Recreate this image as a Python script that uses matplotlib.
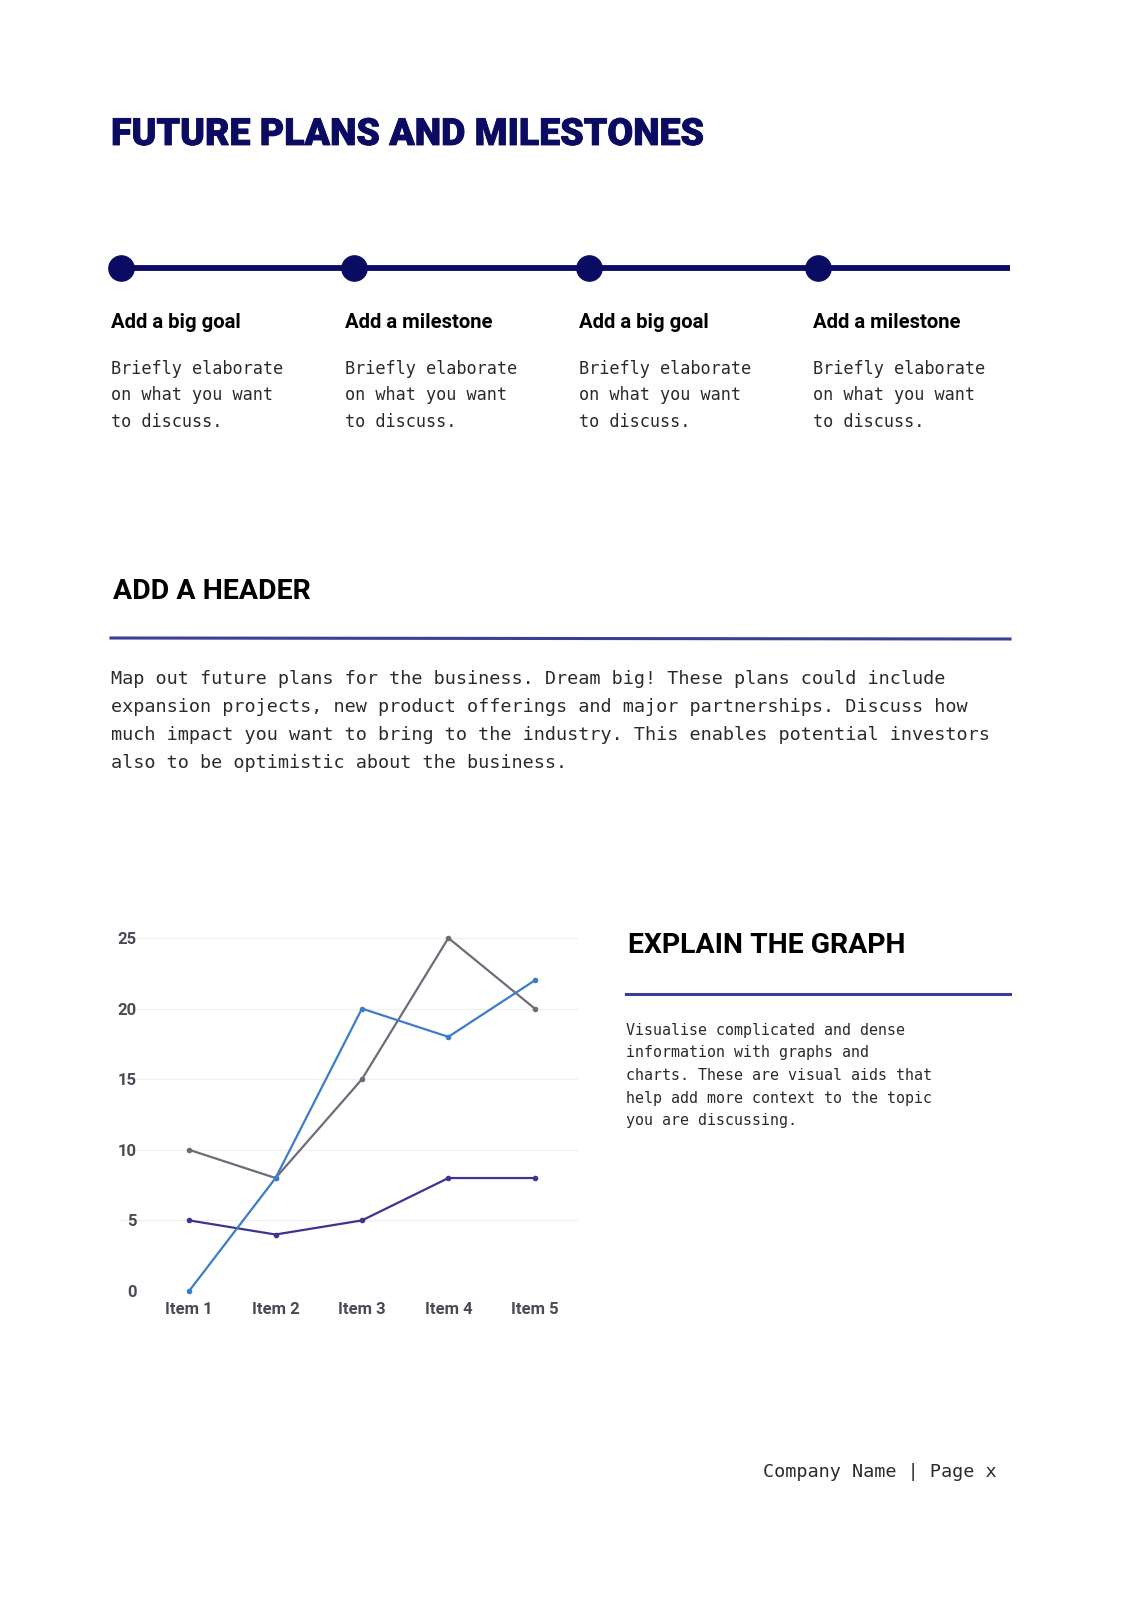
import numpy as np
import matplotlib.pyplot as plt
import matplotlib.patheffects as pe

# Datos del grafico
items = ["Item 1", "Item 2", "Item 3", "Item 4", "Item 5"]
serie_gris = [10, 8, 15, 25, 20]
serie_azul = [0, 8, 20, 18, 22]
serie_morada = [5, 4, 5, 8, 8]
yticks = [0, 5, 10, 15, 20, 25]

# Textos de la pagina
titulo = "FUTURE PLANS AND MILESTONES"
metas = ["Add a big goal", "Add a milestone", "Add a big goal", "Add a milestone"]
texto_meta = ["Briefly elaborate", "on what you want", "to discuss."]
encabezado = "ADD A HEADER"
parrafo = [
    "Map out future plans for the business. Dream big! These plans could include",
    "expansion projects, new product offerings and major partnerships. Discuss how",
    "much impact you want to bring to the industry. This enables potential investors",
    "also to be optimistic about the business.",
]
titulo_grafico = "EXPLAIN THE GRAPH"
texto_grafico = [
    "Visualise complicated and dense",
    "information with graphs and",
    "charts. These are visual aids that",
    "help add more context to the topic",
    "you are discussing.",
]
pie = "Company Name | Page x"

W, H = 1131, 1600
navy = "#0b0b62"
mono = "DejaVu Sans Mono"
gris_texto = "#2a2a2a"

fig = plt.figure(figsize=(W / 100, H / 100), dpi=100)
fig.patch.set_facecolor("white")

# Eje de pagina en pixeles
pg = fig.add_axes([0, 0, 1, 1])
pg.set_xlim(0, W)
pg.set_ylim(H, 0)
pg.axis("off")

# Titulo, apenas engrosado con un trazo fino
pg.text(111, 145, titulo, fontsize=27, fontweight="black", family="Roboto",
        color=navy, va="baseline",
        path_effects=[pe.withStroke(linewidth=0.6, foreground=navy)])

# Linea de tiempo
pg.plot([121, 1010], [268, 268], color=navy, lw=4.2, solid_capstyle="butt")
xs_meta = [121, 354, 589, 818]
pg.scatter(xs_meta, [268] * 4, s=330, color=navy, zorder=3)
for i, m in enumerate(metas):
    x0 = [111, 345, 579, 813][i]
    pg.text(x0, 328, m, fontsize=14.6, fontweight="bold", family="Roboto",
            color="black", va="baseline")
    for j, linea in enumerate(texto_meta):
        pg.text(x0, 374 + j * 26.5, linea, fontsize=12.2, family=mono,
                color=gris_texto, va="baseline")

# Encabezado y parrafo
pg.text(113, 599, encabezado, fontsize=20.5, fontweight="bold", family="Roboto",
        color="black", va="baseline")
pg.plot([111, 1010], [638, 639], color="#3d3d96", lw=2.2)
for j, linea in enumerate(parrafo):
    pg.text(111, 684 + j * 28, linea, fontsize=13.3, family=mono,
            color=gris_texto, va="baseline")

# Explicacion del grafico
pg.text(628, 953, titulo_grafico, fontsize=20.4, fontweight="bold", family="Roboto",
        color="black", va="baseline")
pg.plot([626, 1010], [994, 994], color="#3d3d96", lw=2.2)
for j, linea in enumerate(texto_grafico):
    pg.text(626, 1035 + j * 22.5, linea, fontsize=10.8, family=mono,
            color=gris_texto, va="baseline")

pg.text(997, 1477, pie, fontsize=13.3, family=mono, color=gris_texto,
        va="baseline", ha="right")

# Grafico de lineas
ax = fig.add_axes([120 / W, 1 - 1291 / H, (578 - 120) / W, (1291 - 938) / H])
x = np.arange(len(items))
ax.plot(x, serie_gris, color="#6c6d78", lw=1.6, marker="o", ms=3, clip_on=False, zorder=3)
ax.plot(x, serie_azul, color="#3d7cc9", lw=1.6, marker="o", ms=3, clip_on=False, zorder=4)
ax.plot(x, serie_morada, color="#3b3494", lw=1.6, marker="o", ms=3, clip_on=False, zorder=3)
ax.set_xlim(-0.8, 4.5)
ax.set_ylim(0, 25)
ax.set_yticks(yticks)
ax.set_xticks(x)
ax.set_xticklabels(items)
for s in ax.spines.values():
    s.set_visible(False)
ax.grid(axis="y", color="#f0f0f0", lw=1)
ax.set_axisbelow(True)
ax.tick_params(length=0, pad=8, labelsize=12, labelcolor="#4a4a55")
ax.tick_params(axis="y", pad=-12)
for t in ax.get_xticklabels() + ax.get_yticklabels():
    t.set_family("Roboto")
    t.set_fontweight("bold")
for t in ax.get_yticklabels():
    t.set_ha("right")

fig.savefig("out.png", dpi=100, facecolor="white")
